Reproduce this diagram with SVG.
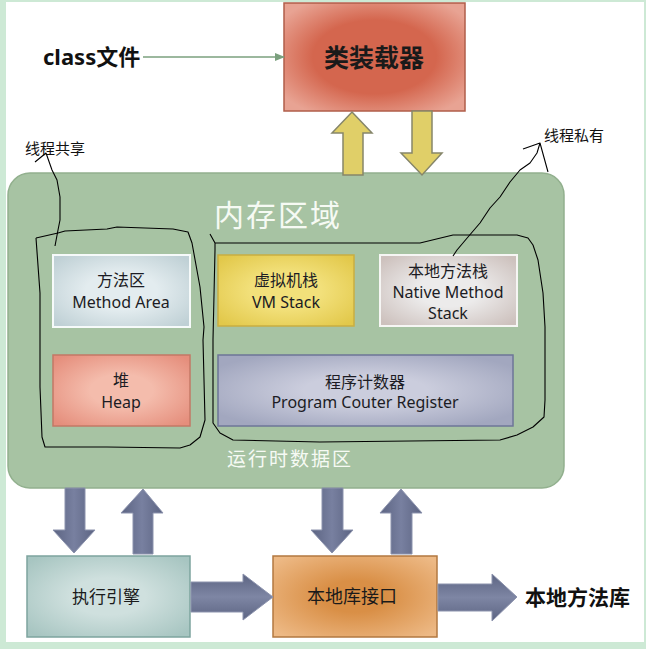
<svg xmlns="http://www.w3.org/2000/svg" width="646" height="649" viewBox="0 0 646 649">
<defs>
<radialGradient id="gLoader" cx="50%" cy="50%" r="62%"><stop offset="0.55" stop-color="#d4664e"/><stop offset="1" stop-color="#e8a393"/></radialGradient>
<radialGradient id="gMethod" cx="50%" cy="50%" r="65%"><stop offset="0.4" stop-color="#e3ecef"/><stop offset="1" stop-color="#bfd0d5"/></radialGradient>
<radialGradient id="gVm" cx="50%" cy="50%" r="65%"><stop offset="0.4" stop-color="#f2e07a"/><stop offset="1" stop-color="#e2c84a"/></radialGradient>
<radialGradient id="gNative" cx="50%" cy="50%" r="65%"><stop offset="0.35" stop-color="#ecebeb"/><stop offset="1" stop-color="#cdc1bd"/></radialGradient>
<radialGradient id="gHeap" cx="50%" cy="50%" r="65%"><stop offset="0.35" stop-color="#f4bcac"/><stop offset="1" stop-color="#e58e7c"/></radialGradient>
<radialGradient id="gPc" cx="50%" cy="50%" r="60%"><stop offset="0.35" stop-color="#cbcddd"/><stop offset="1" stop-color="#a2a7bf"/></radialGradient>
<radialGradient id="gEng" cx="50%" cy="50%" r="65%"><stop offset="0.35" stop-color="#cfe0de"/><stop offset="1" stop-color="#a7c5c1"/></radialGradient>
<radialGradient id="gLib" cx="50%" cy="50%" r="65%"><stop offset="0.3" stop-color="#d98f46"/><stop offset="1" stop-color="#edb985"/></radialGradient>
<linearGradient id="gArrV" x1="0" y1="0" x2="1" y2="0"><stop offset="0" stop-color="#5c6482"/><stop offset="0.5" stop-color="#7880a0"/><stop offset="1" stop-color="#5c6482"/></linearGradient>
<linearGradient id="gArrH" x1="0" y1="0" x2="0" y2="1"><stop offset="0" stop-color="#5c6482"/><stop offset="0.5" stop-color="#7e86a4"/><stop offset="1" stop-color="#5c6482"/></linearGradient>
<marker id="mGreen" markerWidth="10" markerHeight="8" refX="9" refY="4" orient="auto" markerUnits="userSpaceOnUse"><path d="M0,0 L10,4 L0,8 Z" fill="#7ba07e"/></marker>
</defs>
<style>
.cjk{font-family:"Noto Sans","Noto Sans CJK SC",sans-serif;}
.lbl{font-size:16px;fill:#1c1c24;text-anchor:middle;}
.white{fill:#f6faf4;text-anchor:middle;}
.hand{fill:none;stroke:#000;stroke-width:1.1;stroke-linejoin:round;}
.yarr{fill:#e0cf68;stroke:#86866a;stroke-width:1.5;}
.darrV{fill:url(#gArrV);stroke:#8c93ad;stroke-width:1;}
.darrH{fill:url(#gArrH);stroke:#8c93ad;stroke-width:1;}
</style>
<rect x="0" y="0" width="646" height="649" fill="#cde9d5"/>
<rect x="6" y="2" width="638" height="640" fill="#ffffff"/>

<g id="memory-area">
<rect x="8" y="173" width="556" height="315" rx="22" ry="22" fill="#a7c3a3" stroke="#92b08e" stroke-width="1.5"/>
<text class="cjk white" x="278" y="226" font-size="30" letter-spacing="2">内存区域</text>
<text class="cjk white" x="290" y="466" font-size="19" letter-spacing="2">运行时数据区</text>
</g>

<g id="class-file">
<text class="cjk" x="43" y="65" font-size="22" font-weight="bold" fill="#111">class文件</text>
</g>

<g id="class-loader">
<rect x="284" y="3" width="181" height="108" fill="url(#gLoader)" stroke="#b05e4a" stroke-width="1.5"/>
<text class="cjk" x="374" y="67" font-size="25" font-weight="bold" fill="#1a1a1a" text-anchor="middle">类装载器</text>
</g>

<g id="method-area">
<rect x="53" y="255" width="137" height="72" fill="url(#gMethod)" stroke="#f6fafa" stroke-width="2"/>
<text class="cjk lbl" x="121" y="286">方法区</text>
<text class="cjk lbl" x="121" y="308">Method Area</text>
</g>

<g id="vm-stack">
<rect x="218" y="255" width="136" height="71" fill="url(#gVm)" stroke="#c9ae42" stroke-width="1.5"/>
<text class="cjk lbl" x="286" y="286">虚拟机栈</text>
<text class="cjk lbl" x="286" y="308">VM Stack</text>
</g>

<g id="native-stack">
<rect x="380" y="255" width="137" height="71" fill="url(#gNative)" stroke="#f6f6f4" stroke-width="2"/>
<text class="cjk lbl" x="448" y="277">本地方法栈</text>
<text class="cjk lbl" x="448" y="298">Native Method</text>
<text class="cjk lbl" x="448" y="319">Stack</text>
</g>

<g id="heap">
<rect x="53" y="355" width="137" height="71" fill="url(#gHeap)" stroke="#c47866" stroke-width="1.5"/>
<text class="cjk lbl" x="121" y="386">堆</text>
<text class="cjk lbl" x="121" y="408">Heap</text>
</g>

<g id="program-counter">
<rect x="218" y="355" width="295" height="71" fill="url(#gPc)" stroke="#6e7698" stroke-width="1.5"/>
<text class="cjk lbl" x="365" y="388">程序计数器</text>
<text class="cjk lbl" x="365" y="408">Program Couter Register</text>
</g>

<g id="execution-engine">
<rect x="27" y="556" width="163" height="81" fill="url(#gEng)" stroke="#7da49e" stroke-width="1.5"/>
<text class="cjk" x="106" y="603" font-size="17" fill="#1a1a1a" text-anchor="middle">执行引擎</text>
</g>

<g id="native-interface">
<rect x="273" y="556" width="164" height="81" fill="url(#gLib)" stroke="#b27840" stroke-width="1.5"/>
<text class="cjk" x="352" y="603" font-size="18" fill="#1a1a1a" text-anchor="middle">本地库接口</text>
</g>

<g id="native-library">
<text class="cjk" x="525" y="605" font-size="21" font-weight="bold" fill="#111">本地方法库</text>
</g>

<g id="connectors">
<line x1="143" y1="57" x2="284" y2="57" stroke="#7ba07e" stroke-width="1.5" marker-end="url(#mGreen)"/>
<path class="yarr" d="M352,112 L372,133 L363,133 L363,175 L343,175 L343,133 L332,133 Z"/>
<path class="yarr" d="M412,111 L432,111 L432,153 L442,153 L422,175 L401,153 L412,153 Z"/>
<path class="darrV" d="M65,488 L85,488 L85,530 L95,530 L74,553 L53,530 L65,530 Z"/>
<path class="darrV" d="M143,489 L163,513 L153,513 L153,554 L133,554 L133,513 L121,513 Z"/>
<path class="darrV" d="M322,488 L343,488 L343,530 L353,530 L332,553 L311,530 L322,530 Z"/>
<path class="darrV" d="M401,489 L422,513 L412,513 L412,554 L391,554 L391,513 L380,513 Z"/>
<path class="darrH" d="M191,582 L243,582 L243,574 L273,597 L243,620 L243,612 L191,612 Z"/>
<path class="darrH" d="M438,584 L492,584 L492,574 L517,597 L492,621 L492,611 L438,611 Z"/>
</g>

<g id="annotations">
<text class="cjk" x="25" y="154" font-size="15" fill="#111">线程共享</text>
<text class="cjk" x="544" y="141" font-size="15" fill="#111">线程私有</text>
<path class="hand" d="M35,162 L46,153 L52,170 L57,180 L60,197 L60,220 L58,230 L55,246"/>
<path class="hand" d="M36,238 L58,233 L65,231 L107,229 L117,227 L173,229 L188,232 L192,243 L200,287 L204,327 L203,340 L205,420 L200,437 L190,445 L180,448 L107,447 L45,447 L42,437 L40,387 L40,293 L36,238"/>
<path class="hand" d="M210,234 L215,243 L420,243 L453,235 L517,235 L528,238 L533,245 L538,260 L543,293 L545,327 L545,400 L544,417 L533,427 L517,435 L500,440 L320,442 L233,440 L220,433 L213,423 L213,340 L215,250 L215,243"/>
<path class="hand" d="M523,149 L540,143 L548,172 M540,143 L537,153 L530,163 L520,170 L510,182 L500,197 L490,208 L480,223 L468,237 L457,250 L453,256"/>
</g>
</svg>
